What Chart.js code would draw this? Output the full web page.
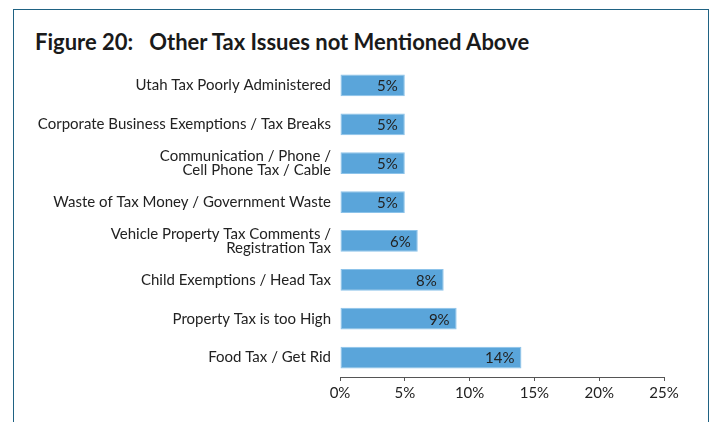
<!DOCTYPE html>
<html>
<head>
<meta charset="utf-8">
<script src="https://cdn.jsdelivr.net/npm/chart.js@4"></script>
<style>
    html, body { margin: 0; padding: 0; background: #fff; }
    body { width: 710px; height: 422px; position: relative; overflow: hidden; font-family: Lato, sans-serif; }
    .frame {
        position: absolute; left: 13px; top: 9px; width: 694px; height: 420px;
        border-top: 1.5px solid #1f6283; border-left: 1.5px solid #1f6283; border-right: 1.5px solid #1f6283;
    }
    .title {
        position: absolute; left: 35px; top: 28px; font-size: 22px; font-weight: 700; color: #1a1a1a;
        white-space: pre;
    }
    canvas { position: absolute; left: 0; top: 0; }
</style>
</head>
<body>
<div class="frame"></div>
<div class="title">Figure 20:   Other Tax Issues not Mentioned Above</div>
<canvas id="chart" width="710" height="422"></canvas>
<script>
// ── Data ──────────────────────────────────────────────────────
const issues = [
    'Utah Tax Poorly Administered',
    'Corporate Business Exemptions / Tax Breaks',
    ['Communication / Phone /', 'Cell Phone Tax / Cable'],
    'Waste of Tax Money / Government Waste',
    ['Vehicle Property Tax Comments /', 'Registration Tax'],
    'Child Exemptions / Head Tax',
    'Property Tax is too High',
    'Food Tax / Get Rid'
];
const shares = [5, 5, 5, 5, 6, 8, 9, 14];
const axisTicks = [0, 5, 10, 15, 20, 25];

const FONT = 'Lato';
const TEXT = '#222';

// value labels inside the right end of each bar
const barLabels = {
    id: 'barLabels',
    afterDatasetsDraw(chart) {
        const { ctx } = chart;
        const meta = chart.getDatasetMeta(0);
        ctx.save();
        ctx.font = `15px ${FONT}`;
        ctx.fillStyle = TEXT;
        ctx.textAlign = 'right';
        ctx.textBaseline = 'middle';
        meta.data.forEach((bar, i) => {
            ctx.fillText(shares[i] + '%', bar.x - 7, bar.y + 1);
        });
        ctx.restore();
    }
};

const ctx = document.getElementById('chart').getContext('2d');
new Chart(ctx, {
    type: 'bar',
    data: {
        labels: issues,
        datasets: [{
            data: shares,
            backgroundColor: '#5aa5da',
            borderColor: '#8cc3ea',
            borderWidth: 1,
            borderSkipped: false,
            barPercentage: 0.56,
            categoryPercentage: 1
        }]
    },
    options: {
        indexAxis: 'y',
        responsive: false,
        animation: false,
        layout: { padding: { top: 66, right: 46, bottom: 15, left: 0 } },
        plugins: {
            legend: { display: false },
            tooltip: { enabled: false }
        },
        scales: {
            x: {
                min: 0,
                max: 25,
                afterBuildTicks: s => { s.ticks = axisTicks.map(v => ({ value: v })); },
                afterFit: s => { s.height = 30; },
                grid: { drawOnChartArea: false, drawTicks: true, tickLength: 4, color: '#555' },
                border: { display: true, color: '#555', width: 1 },
                ticks: {
                    padding: 3,
                    color: TEXT,
                    font: { family: FONT, size: 15 },
                    callback: v => v + '%'
                }
            },
            y: {
                afterFit: s => { s.width = 340; },
                grid: { display: false, drawTicks: false },
                border: { display: false },
                ticks: {
                    padding: 9,
                    color: TEXT,
                    font: { family: FONT, size: 15, lineHeight: 0.95 }
                }
            }
        }
    },
    plugins: [barLabels]
});
</script>
</body>
</html>
